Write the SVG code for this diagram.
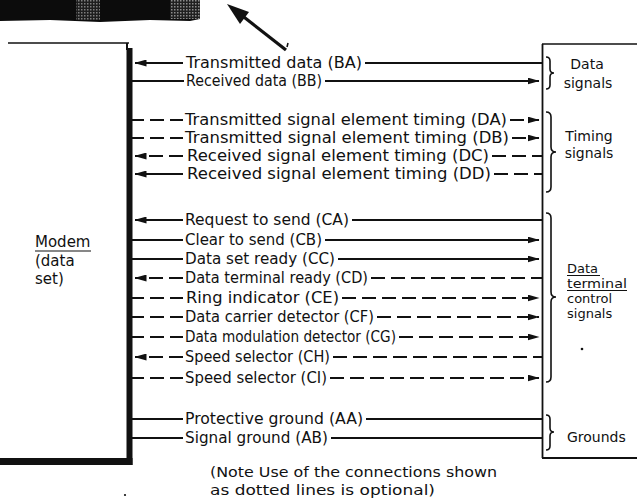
<svg xmlns="http://www.w3.org/2000/svg" width="637" height="500" viewBox="0 0 637 500">
<style>
.ln{stroke:#111;stroke-width:2;fill:none}
.d{stroke-dasharray:14 6}
.t{font-family:"DejaVu Sans","Liberation Sans",sans-serif;font-size:15px;fill:#111}
.lb{font-family:"DejaVu Sans","Liberation Sans",sans-serif;font-size:14px;fill:#111}
.sm{font-family:"DejaVu Sans","Liberation Sans",sans-serif;font-size:13px;fill:#111}
.br{stroke:#111;stroke-width:1.6;fill:none}
</style>
<defs>
<marker id="ah" markerUnits="userSpaceOnUse" markerWidth="12" markerHeight="7" viewBox="0 0 12 7" refX="11.5" refY="3.5" orient="auto">
<path d="M0,0 L12,3.5 L0,7 z" fill="#111"/>
</marker>
<pattern id="ht" width="3" height="3" patternUnits="userSpaceOnUse">
<rect width="3" height="3" fill="#222"/>
<rect width="1.5" height="1.5" fill="#9a9a9a"/>
</pattern>
</defs>
<rect width="637" height="500" fill="#fff"/>

<g id="photo-strip">
<path d="M0,0 H200 V19 L190,21 L150,20 L100,22 L50,20 L0,21 z" fill="#0c0c0c"/>
<rect x="76" y="0" width="24" height="20" fill="url(#ht)" opacity="0.8"/>
<rect x="170" y="0" width="30" height="19" fill="url(#ht)" opacity="0.9"/>
</g>

<g id="pointer">
<line x1="286" y1="50" x2="240" y2="14" stroke="#111" stroke-width="3.2"/>
<polygon points="227,4 249,12 240,24" fill="#111"/>
<line x1="288" y1="43" x2="287" y2="47" stroke="#111" stroke-width="1.5"/>
</g>

<g id="modem">
<line x1="8" y1="43" x2="129" y2="43" stroke="#111" stroke-width="1.6"/>
<line x1="127" y1="43" x2="127" y2="50" stroke="#111" stroke-width="2"/>
<rect x="126.5" y="48" width="6" height="417" fill="#111"/>
<rect x="0" y="458" width="132.5" height="7" fill="#111"/>
<text class="t" x="35" y="247">Modem</text>
<line x1="35" y1="251" x2="91" y2="251" stroke="#111" stroke-width="1.2"/>
<text class="t" x="35" y="266">(data</text>
<text class="t" x="35" y="284">set)</text>
</g>

<g id="terminal">
<line x1="542.5" y1="44" x2="542.5" y2="458" stroke="#111" stroke-width="1.8"/>
<line x1="542" y1="44" x2="637" y2="44" stroke="#111" stroke-width="1.5"/>
<line x1="542" y1="458" x2="637" y2="458" stroke="#111" stroke-width="2"/>
</g>

<g id="data-signals">
<path class="br" d="M546,57 Q550,57 550,61 L550,69 Q550,73 554,73 Q550,73 550,77 L550,85 Q550,89 546,89"/>
<text class="lb" x="587" y="69" text-anchor="middle">Data</text>
<text class="lb" x="588" y="88" text-anchor="middle">signals</text>
</g>

<g id="timing-signals">
<path class="br" d="M546,112 Q551,112 551,117 L551,147 Q551,152 556,152 Q551,152 551,157 L551,187 Q551,192 546,192"/>
<text class="lb" x="589" y="141" text-anchor="middle">Timing</text>
<text class="lb" x="589" y="158" text-anchor="middle">signals</text>
</g>

<g id="control-signals">
<path class="br" d="M546,213 Q551,213 551,218 L551,292 Q551,297 556,297 Q551,297 551,302 L551,377 Q551,382 546,382"/>
<text class="sm" x="567" y="273">Data</text>
<line x1="567" y1="275.5" x2="600" y2="275.5" stroke="#111" stroke-width="1.1"/>
<text class="sm" x="567" y="288" textLength="60" lengthAdjust="spacingAndGlyphs">terminal</text>
<line x1="567" y1="290.5" x2="627" y2="290.5" stroke="#111" stroke-width="1.1"/>
<text class="sm" x="567" y="303">control</text>
<text class="sm" x="567" y="318">signals</text>
<circle cx="582" cy="349" r="1.3" fill="#111"/>
</g>

<g id="grounds">
<path class="br" d="M546,415 Q550,415 550,419 L550,428 Q550,432 554,432 Q550,432 550,436 L550,446 Q550,450 546,450"/>
<text class="lb" x="567" y="442">Grounds</text>
</g>

<g id="connectors">
<g id="BA"><path class="ln" d="M183,63 L135,63" marker-end="url(#ah)"/><text class="t" x="186" y="67.5" textLength="176" lengthAdjust="spacingAndGlyphs">Transmitted data (BA)</text><path class="ln" d="M365,63 L542,63"/></g>
<g id="BB"><path class="ln" d="M132,81 L184,81"/><text class="t" x="186" y="85.5" textLength="136" lengthAdjust="spacingAndGlyphs">Received data (BB)</text><path class="ln" d="M325,81 L539,81" marker-end="url(#ah)"/></g>
<g id="DA"><path class="ln d" d="M130,120 L183,120"/><text class="t" x="185" y="124.5" textLength="322" lengthAdjust="spacingAndGlyphs">Transmitted signal element timing (DA)</text><path class="ln d" d="M510,120 L539,120" marker-end="url(#ah)"/></g>
<g id="DB"><path class="ln d" d="M130,138 L183,138"/><text class="t" x="185" y="142.5" textLength="324" lengthAdjust="spacingAndGlyphs">Transmitted signal element timing (DB)</text><path class="ln d" d="M512,138 L539,138" marker-end="url(#ah)"/></g>
<g id="DC"><path class="ln d" d="M183,156 L135,156" marker-end="url(#ah)"/><text class="t" x="187" y="160.5" textLength="302" lengthAdjust="spacingAndGlyphs">Received signal element timing (DC)</text><path class="ln d" d="M492,156 L542,156"/></g>
<g id="DD"><path class="ln" d="M183,174 L135,174" marker-end="url(#ah)"/><text class="t" x="187" y="178.5" textLength="304" lengthAdjust="spacingAndGlyphs">Received signal element timing (DD)</text><path class="ln d" d="M494,174 L542,174"/></g>
<g id="CA"><path class="ln" d="M183,220 L135,220" marker-end="url(#ah)"/><text class="t" x="185" y="224.5" textLength="164" lengthAdjust="spacingAndGlyphs">Request to send (CA)</text><path class="ln" d="M352,220 L542,220"/></g>
<g id="CB"><path class="ln" d="M132,240 L183,240"/><text class="t" x="185" y="244.5" textLength="137" lengthAdjust="spacingAndGlyphs">Clear to send (CB)</text><path class="ln" d="M325,240 L539,240" marker-end="url(#ah)"/></g>
<g id="CC"><path class="ln" d="M132,259 L183,259"/><text class="t" x="185" y="263.5" textLength="150" lengthAdjust="spacingAndGlyphs">Data set ready (CC)</text><path class="ln" d="M338,259 L539,259" marker-end="url(#ah)"/></g>
<g id="CD"><path class="ln d" d="M183,278 L135,278" marker-end="url(#ah)"/><text class="t" x="185" y="282.5" textLength="183" lengthAdjust="spacingAndGlyphs">Data terminal ready (CD)</text><path class="ln d" d="M371,278 L542,278"/></g>
<g id="CE"><path class="ln d" d="M130,298 L183,298"/><text class="t" x="186" y="302.5" textLength="153" lengthAdjust="spacingAndGlyphs">Ring indicator (CE)</text><path class="ln d" d="M342,298 L539,298" marker-end="url(#ah)"/></g>
<g id="CF"><path class="ln d" d="M130,317 L183,317"/><text class="t" x="185" y="321.5" textLength="189" lengthAdjust="spacingAndGlyphs">Data carrier detector (CF)</text><path class="ln d" d="M377,317 L539,317" marker-end="url(#ah)"/></g>
<g id="CG"><path class="ln d" d="M130,337 L183,337"/><text class="t" x="185" y="341.5" textLength="211" lengthAdjust="spacingAndGlyphs">Data modulation detector (CG)</text><path class="ln d" d="M399,337 L539,337" marker-end="url(#ah)"/></g>
<g id="CH"><path class="ln d" d="M183,357 L135,357" marker-end="url(#ah)"/><text class="t" x="185" y="361.5" textLength="145" lengthAdjust="spacingAndGlyphs">Speed selector (CH)</text><path class="ln d" d="M333,357 L542,357"/></g>
<g id="CI"><path class="ln d" d="M130,378 L183,378"/><text class="t" x="185" y="382.5" textLength="142" lengthAdjust="spacingAndGlyphs">Speed selector (CI)</text><path class="ln d" d="M330,378 L539,378" marker-end="url(#ah)"/></g>
<g id="AA"><path class="ln" d="M132,419 L183,419"/><text class="t" x="185" y="423.5" textLength="178" lengthAdjust="spacingAndGlyphs">Protective ground (AA)</text><path class="ln" d="M366,419 L542,419"/></g>
<g id="AB"><path class="ln" d="M132,438 L183,438"/><text class="t" x="185" y="442.5" textLength="143" lengthAdjust="spacingAndGlyphs">Signal ground (AB)</text><path class="ln" d="M331,438 L542,438"/></g>
</g>

<g id="note">
<text class="lb" x="210" y="477" textLength="287" lengthAdjust="spacingAndGlyphs">(Note  Use of the connections shown</text>
<text class="lb" x="210" y="495" textLength="225" lengthAdjust="spacingAndGlyphs">as dotted lines is optional)</text>
<circle cx="125" cy="495" r="1.1" fill="#111"/>
</g>
</svg>
